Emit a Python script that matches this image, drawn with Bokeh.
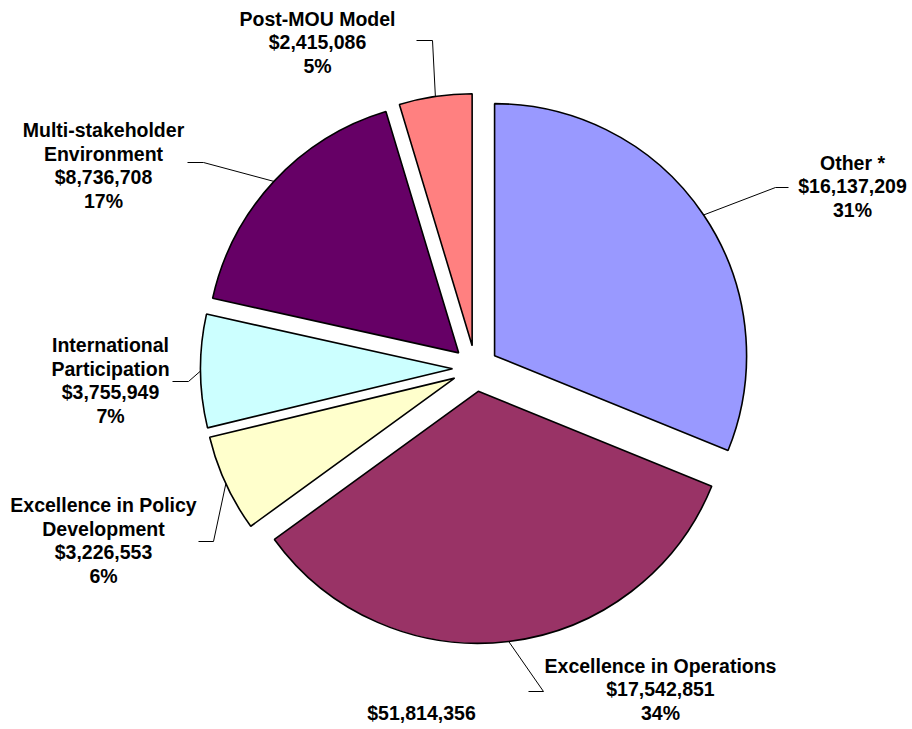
import math
from bokeh.plotting import figure
from bokeh.models import Range1d, ColumnDataSource
from bokeh.core.properties import value
from bokeh.embed import file_html
from bokeh.resources import INLINE

# ---- data ----
categories = ["Other *", "Excellence in Operations", "Excellence in Policy Development",
              "International Participation", "Multi-stakeholder Environment", "Post-MOU Model"]
label_names = ["Other *", "Excellence in Operations", "Excellence in Policy\nDevelopment",
               "International\nParticipation", "Multi-stakeholder\nEnvironment", "Post-MOU Model"]
amounts = [16137209, 17542851, 3226553, 3755949, 8736708, 2415086]
colors = ["#9999FF", "#993366", "#FFFFCC", "#CCFFFF", "#660066", "#FF8080"]

W, H = 912, 729
total = sum(amounts)

# layout (page pixel coords -> data coords)
def px(x):
    return x
def py(y):
    return H - y

CX, CY = px(475), py(368)
R = 252
EXPLODE = 23

# label block centres, elbow and end points of leaders (page pixels)
label_pos = [(852, 186), (660, 689), (103, 540), (110, 380), (103, 165), (317, 42)]
elbows = [(775, 187), (543, 691), (213, 541), (188, 381), (203, 162), (432, 40)]
ends = [(788, 187), (528, 691), (198, 541), (172, 381), (187, 162), (416, 40)]

p = figure(width=W, height=H, x_range=Range1d(0, W), y_range=Range1d(0, H),
           output_backend="svg", toolbar_location=None, min_border=0)
p.axis.visible = False
p.grid.visible = False
p.outline_line_color = None
p.background_fill_color = "white"

xs, ys, starts, endsa = [], [], [], []
leader_xs, leader_ys = [], []
labels = []
cum = 0.0
for i, v in enumerate(amounts):
    f0 = cum / total
    f1 = (cum + v) / total
    cum += v
    fm = (f0 + f1) / 2
    mid = math.pi / 2 - fm * 2 * math.pi
    cx = CX + EXPLODE * math.cos(mid)
    cy = CY + EXPLODE * math.sin(mid)
    xs.append(cx)
    ys.append(cy)
    starts.append(math.pi / 2 - f1 * 2 * math.pi)
    endsa.append(math.pi / 2 - f0 * 2 * math.pi)
    ax = cx + R * math.cos(mid)
    ay = cy + R * math.sin(mid)
    leader_xs.append([ax, px(elbows[i][0]), px(ends[i][0])])
    leader_ys.append([ay, py(elbows[i][1]), py(ends[i][1])])
    pct = round(v / total * 100)
    labels.append(f"{label_names[i]}\n${v:,}\n{pct}%")

src = ColumnDataSource(dict(x=xs, y=ys, start=starts, end=endsa, color=colors))
p.wedge(x="x", y="y", radius=R, start_angle="start", end_angle="end",
        direction="anticlock", fill_color="color", line_color="black", line_width=1.6,
        source=src)

p.multi_line(xs=leader_xs, ys=leader_ys, line_color="black", line_width=1)

lsrc = ColumnDataSource(dict(x=[px(a) for a, b in label_pos],
                             y=[py(b) for a, b in label_pos], text=labels))
p.text(x="x", y="y", text="text", source=lsrc, text_align="center",
       text_baseline="middle", text_font=value("Liberation Sans"),
       text_font_style="bold", text_font_size="19.5px", text_color="black",
       text_line_height=1.08)

p.text(x=[px(421)], y=[py(712)], text=[f"${total:,}"], text_align="center",
       text_baseline="middle", text_font=value("Liberation Sans"),
       text_font_style="bold", text_font_size="19.5px", text_color="black")

open("out.html", "w").write(file_html(p, INLINE))
